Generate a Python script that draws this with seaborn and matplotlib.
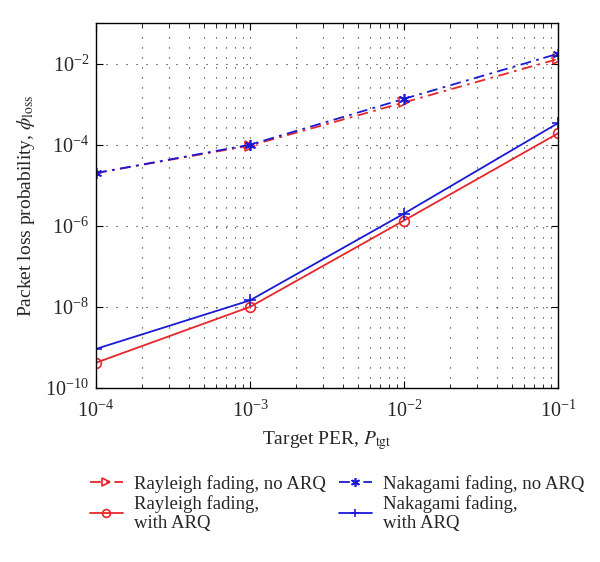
import numpy as np
import pandas as pd
import matplotlib
matplotlib.use("Agg")
import matplotlib.pyplot as plt
import matplotlib.ticker as mticker
import seaborn as sns

target_per = [1e-4, 1e-3, 1e-2, 1e-1]
rayleigh_no_arq = [2.0e-5, 9.5e-5, 1.1e-3, 1.3e-2]
nakagami_no_arq = [2.0e-5, 1.0e-4, 1.35e-3, 1.75e-2]
rayleigh_arq = [4.2e-10, 1.0e-8, 1.35e-6, 1.9e-4]
nakagami_arq = [9.2e-10, 1.45e-8, 2.0e-6, 3.4e-4]

sns.set_style("ticks")
plt.rcParams['font.family'] = ['Liberation Serif', 'DejaVu Serif']
plt.rcParams['mathtext.fontset'] = 'stix'

fig = plt.figure(figsize=(6, 5.62), dpi=100)
ax = fig.add_axes([0.16, 0.3096, 0.77, 0.6494])

series = [
    ("Rayleigh fading, no ARQ", rayleigh_no_arq, "#e8262a", (0, (6, 3, 1.5, 3)), ">", "none", 7),
    ("Rayleigh fading,\nwith ARQ", rayleigh_arq, "#e8262a", "-", "o", "none", 7),
    ("Nakagami fading, no ARQ", nakagami_no_arq, "#1a1ad6", (0, (6, 3, 1.5, 3)), (6, 2, 0), "none", 8),
    ("Nakagami fading,\nwith ARQ", nakagami_arq, "#1a1ad6", "-", "+", "none", 8),
]
for label, vals, col, ls, mk, mfc, ms in series:
    df = pd.DataFrame({"x": target_per, "y": vals})
    sns.lineplot(data=df, x="x", y="y", ax=ax, color=col, linestyle=ls, marker=mk,
                 markerfacecolor=mfc, markeredgecolor=col, markersize=ms, markeredgewidth=1.2,
                 linewidth=1.3, label=label, legend=False)

ax.set_xscale("log")
ax.set_yscale("log")
ax.set_xlim(1e-4, 1e-1)
ax.set_ylim(1e-10, 1e-1)
ax.set_yticks([1e-10, 1e-8, 1e-6, 1e-4, 1e-2])
ax.yaxis.set_minor_locator(mticker.NullLocator())
ax.set_xticks([1e-4, 1e-3, 1e-2, 1e-1])
ax.xaxis.set_minor_locator(mticker.LogLocator(base=10, subs=np.arange(2, 10), numticks=20))
ax.xaxis.set_minor_formatter(mticker.NullFormatter())

ax.grid(True, which="major", axis="both", linestyle=(0, (1, 8)), color="#222222", linewidth=0.8)
ax.grid(True, which="minor", axis="x", linestyle=(0, (1, 8)), color="#222222", linewidth=0.8)
ax.tick_params(which="both", direction="in", top=True, right=True, labelsize=14.5, color="black")
ax.tick_params(which="major", length=5)
ax.tick_params(which="minor", length=3)
ax.tick_params(axis="x", which="major", pad=9)
ax.tick_params(axis="y", which="major", pad=5)
for s in ax.spines.values():
    s.set_color("black")
    s.set_linewidth(1.0)

ax.set_xlabel(r"Target PER, $P_{\rm tgt}$", fontsize=14, labelpad=5)
ax.set_ylabel(r"Packet loss probability, $\phi_{\rm loss}$", fontsize=14, labelpad=6)

h, l = ax.get_legend_handles_labels()
fig.legend(h, l, loc="upper center", bbox_to_anchor=(0.562, 0.185), ncol=2, frameon=False,
           fontsize=13.5, handlelength=1.75, columnspacing=0.7, labelspacing=0.1,
           handletextpad=0.6, markerscale=0.8)

fig.savefig("out.png", dpi=100)
